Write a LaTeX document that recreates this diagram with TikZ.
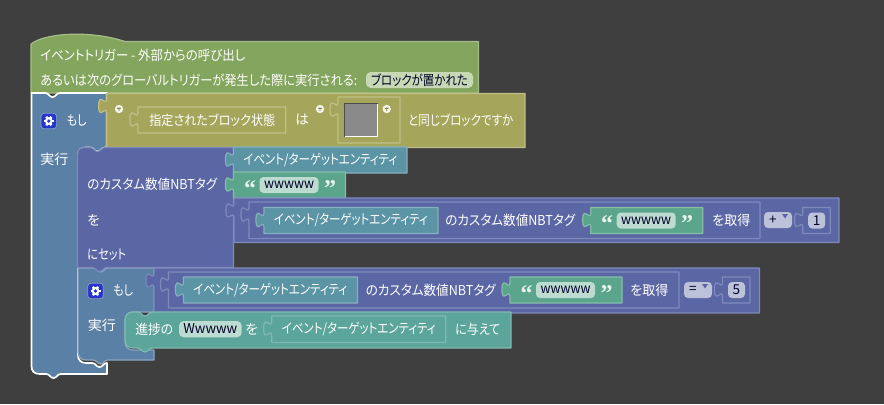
\documentclass[tikz,border=0pt]{standalone}
\usepackage{fontspec}
\usepackage{graphicx}
\setmainfont[RawFeature=+palt]{Noto Sans CJK JP}
\newfontfamily\qfont{Liberation Serif}
\definecolor{bgc}{HTML}{3F3F3F}
\definecolor{hatc}{HTML}{84A55E}\definecolor{hatb}{HTML}{A5BE88}
\definecolor{olivec}{HTML}{A5A55B}\definecolor{oliveb}{HTML}{C0C088}
\definecolor{bluec}{HTML}{5B80A5}\definecolor{blueb}{HTML}{8BA5C0}
\definecolor{purc}{HTML}{5B67A5}\definecolor{purb}{HTML}{7F89BC}
\definecolor{entc}{HTML}{5B94A5}\definecolor{entb}{HTML}{85B0BD}
\definecolor{strc}{HTML}{5BA58C}\definecolor{strb}{HTML}{85BDA9}
\definecolor{stmc}{HTML}{5BA59B}\definecolor{stmb}{HTML}{80B9B1}
\definecolor{chipg}{HTML}{C6D8B4}\definecolor{chips}{HTML}{BDDBD1}
\definecolor{chipp}{HTML}{BDC2DB}
\definecolor{iconc}{HTML}{2636CC}
\tikzset{
  lbl/.style={anchor=west,inner sep=0pt,text=white,font=\fontsize{10.2pt}{12pt}\selectfont},
  chiptxt/.style={anchor=center,inner sep=0pt,text=black!85!blue,font=\fontsize{10.2pt}{12pt}\selectfont},
  quot/.style={anchor=center,inner sep=0pt,text=white!85!strc,font=\fontsize{18pt}{18pt}\qfont\bfseries},
  blk/.style={line width=0.9pt,line join=round}
}
% text squeezed to a width in reference pixels
\newcommand\fit[2]{\resizebox{#1\dimexpr0.75pt\relax}{\height}{#2}}
\newcommand\tabup[2]{-- (#1,#2) .. controls (#1,#2-10) and (#1-8,#2+8) .. (#1-8,#2-7.5) .. controls (#1-8,#2-23) and (#1,#2-5) .. (#1,#2-15)}
\newcommand\notchR[2]{-- (#1,#2) .. controls (#1+4,#2) and (#1+4,#2+4) .. (#1+7.5,#2+4) .. controls (#1+11,#2+4) and (#1+11,#2) .. (#1+15,#2)}
\newcommand\notchL[2]{-- (#1+15,#2) .. controls (#1+11,#2) and (#1+11,#2+4) .. (#1+7.5,#2+4) .. controls (#1+4,#2+4) and (#1+4,#2) .. (#1,#2)}
\newcommand\tabbox[6]{\draw[blk,fill=#5,draw=#6] (#1,#2) -- (#3,#2) -- (#3,#4) -- (#1,#4) \tabup{#1}{#2+20} -- cycle;}
\newcommand\entity[4]{\tabbox{#2}{#3}{#2+#4}{#3+26}{entc}{entb}\node[lbl] (#1) at (#2+9.5,#3+13) {\fit{154}{イベント/ターゲットエンティティ}};}
\newcommand\strblk[4]{\tabbox{#2}{#3}{#2+112}{#3+26}{strc}{strb}
  \node[quot] (#1a) at (#2+16.5,#3+16.5) {“};
  \draw[fill=chips,draw=none,rounded corners=3pt] (#2+26,#3+5) rectangle (#2+85,#3+21);
  \node[chiptxt] (#1b) at (#2+55.5,#3+13) {\fit{50}{#4}};
  \node[quot] (#1c) at (#2+96.5,#3+16.5) {”};}
\newcommand\drop[4]{\fill[chipp,rounded corners=3pt] (#2,#3) rectangle (#2+28,#3+16);
  \node[chiptxt] (#1) at (#2+9,#3+8) {#4};
  \fill[purc] (#2+18,#3+2) -- (#2+24,#3+2) -- (#2+21,#3+6.5) -- cycle;}
\newcommand\numsock[4]{\tabbox{#2}{#3}{#2+27.5}{#3+26}{purc}{purb}
  \fill[chipp,rounded corners=3pt] (#2+5.5,#3+5) rectangle (#2+22.5,#3+21);
  \node[chiptxt] (#1) at (#2+14,#3+13) {#4};}
\newcommand\gear[2]{\draw[fill=iconc,draw=blueb,rounded corners=2.5pt,line width=.5pt] (#1-7.8,#2-7.8) rectangle (#1+7.8,#2+7.8);
  \foreach \a in {0,60,120}{\draw[white,line width=1.7pt] (#1,#2) ++(\a:5) -- ++(\a+180:10);}
  \fill[white] (#1,#2) circle (3.9);\fill[iconc] (#1,#2) circle (1.8);}
\newcommand\mini[2]{\fill[white!88!olivec] (#1,#2) circle (4.2);
  \draw[olivec!80!black,line width=.5pt] (#1,#2-2) -- (#1,#2+2) (#1-2,#2-1) -- (#1,#2) -- (#1+2,#2-1);}
\begin{document}
\begin{tikzpicture}[x=0.75pt,y=-0.75pt]
\fill[bgc] (0,0) rectangle (884,404);
\useasboundingbox (0,0) rectangle (884,404);
% hat block
\draw[blk,fill=hatc,draw=hatb] (31,44) .. controls (45,33) and (90,30) .. (125,41.5) -- (478.5,41.5) -- (478.5,93) -- (31,93) -- cycle;
\node[lbl] (h1) at (40,55) {\fit{205}{イベントトリガー - 外部からの呼び出し}};
\node[lbl] (h2) at (40,80) {\fit{317}{あるいは次のグローバルトリガーが発生した際に実行される:}};
\fill[chipg,rounded corners=3.5pt] (366,72) rectangle (473,88);
\node[chiptxt] (h3) at (419.5,80) {\fit{97}{ブロックが置かれた}};
% outer if block
\draw[line width=1.3pt,line join=round,fill=bluec,draw=white]
  (39,93) \notchR{45}{93} -- (106.7,93) -- (106.7,147.5) \notchL{90}{147.5} -- (86,147.5)
  .. controls (81,147.5) and (78,150) .. (78,155) -- (78,355) .. controls (78,360) and (81,363) .. (86,363)
  \notchR{92}{363} -- (107,363) -- (107,374) \notchL{46}{374} -- (40,374)
  .. controls (34,374) and (31.5,371) .. (31.5,366) -- (31.5,93) -- cycle;
\gear{48.8}{121}
\node[lbl] (m1) at (66.5,120) {\fit{20}{もし}};
\node[lbl] (m2) at (40,159) {\fit{28}{実行}};
% condition block
\draw[blk,fill=olivec,draw=oliveb] (106.7,93.5) -- (525,93.5) -- (525,147.5) -- (106.7,147.5) \tabup{106.7}{113.5} -- cycle;
\mini{119}{109}
\tabbox{138}{107}{285.7}{133}{olivec}{oliveb}
\node[lbl] (c1) at (149,120) {\fit{126}{指定されたブロック状態}};
\node[lbl] (c2) at (295,120) {は};
\mini{320}{109}
\tabbox{338}{97}{400}{143}{olivec}{oliveb}
\fill[gray!92!white] (344,103) rectangle (378,137);
\draw[line width=1.1pt,black!70] (344.5,137) -- (344.5,103.5) -- (378,103.5);
\draw[line width=1.1pt,white] (344.5,136.5) -- (377.5,136.5) -- (377.5,103.5);
\mini{386.7}{109}
\node[lbl] (c3) at (408,120) {\fit{105}{と同じブロックですか}};
% inner if block
\draw[blk,fill=bluec,draw=blueb]
  (78,268) \notchR{93}{268} -- (154,268) -- (154,312) -- (133,312) .. controls (128,312) and (125,315) .. (125,320)
  -- (125,342) .. controls (125,347) and (128,350) .. (133,350) -- (154,350) -- (154,360) \notchL{93}{360}
  -- (86,360) .. controls (81,360) and (78,357) .. (78,352) -- cycle;
\gear{95.5}{291}
\node[lbl] (i1) at (113,290) {\fit{20}{もし}};
\node[lbl] (i2) at (87.5,325) {\fit{28}{実行}};
% set block
\draw[blk,fill=purc,draw=purb]
  (85,147.5) \notchR{90}{147.5} -- (233.5,147.5) -- (233.5,267.5) \notchL{92}{267.5} -- (77.5,267.5)
  -- (77.5,155) .. controls (77.5,150) and (80,147.5) .. (85,147.5) -- cycle;
\node[lbl] (s1) at (87,184) {\fit{130}{のカスタム数値NBTタグ}};
\node[lbl] (s2) at (87,220) {を};
\node[lbl] (s3) at (87,255) {\fit{39}{にセット}};
\entity{e1}{233.5}{147}{173.5}
\strblk{q1}{233.5}{172}{wwwww}
% math block
\tabbox{234}{198}{839}{242.5}{purc}{purb}
\tabbox{249}{202}{760}{238.5}{purc}{purb}
\entity{e2}{264}{207.5}{174}
\node[lbl] (g1) at (445,220) {\fit{130}{のカスタム数値NBTタグ}};
\strblk{q2}{590.7}{207.5}{wwwww}
\node[lbl] (g2) at (712,220) {\fit{38}{を取得}};
\drop{d1}{764}{212}{+}
\numsock{n1}{802.7}{207.5}{1}
% comparison block
\tabbox{154}{268}{759.5}{313}{purc}{purb}
\tabbox{168.5}{272}{679}{308}{purc}{purb}
\entity{e3}{183.5}{277}{174}
\node[lbl] (g3) at (365.5,290) {\fit{130}{のカスタム数値NBTタグ}};
\strblk{q3}{510}{277}{wwwww}
\node[lbl] (g4) at (630,290) {\fit{38}{を取得}};
\drop{d2}{684}{282}{=}
\numsock{n2}{722.5}{277}{5}
% advancement statement
\draw[blk,fill=stmc,draw=stmb]
  (133,312) \notchR{137.5}{312} -- (511,312) -- (511,348) \notchL{137.5}{348} -- (133,348)
  .. controls (128,348) and (125,345) .. (125,340) -- (125,320) .. controls (125,315) and (128,312) .. (133,312) -- cycle;
\node[lbl] (a1) at (135,329) {\fit{38}{進捗の}};
\fill[chips,rounded corners=3.5pt] (179,321) rectangle (241.7,337.3);
\node[chiptxt] (a2) at (210.3,329) {\fit{54}{Wwwww}};
\node[lbl] (a3) at (245,329) {を};
\tabbox{271.7}{316}{445.7}{342.5}{stmc}{stmb}
\node[lbl] (a4) at (281.5,329) {\fit{154}{イベント/ターゲットエンティティ}};
\node[lbl] (a5) at (455,329) {\fit{45}{に与えて}};
\end{tikzpicture}
\end{document}
